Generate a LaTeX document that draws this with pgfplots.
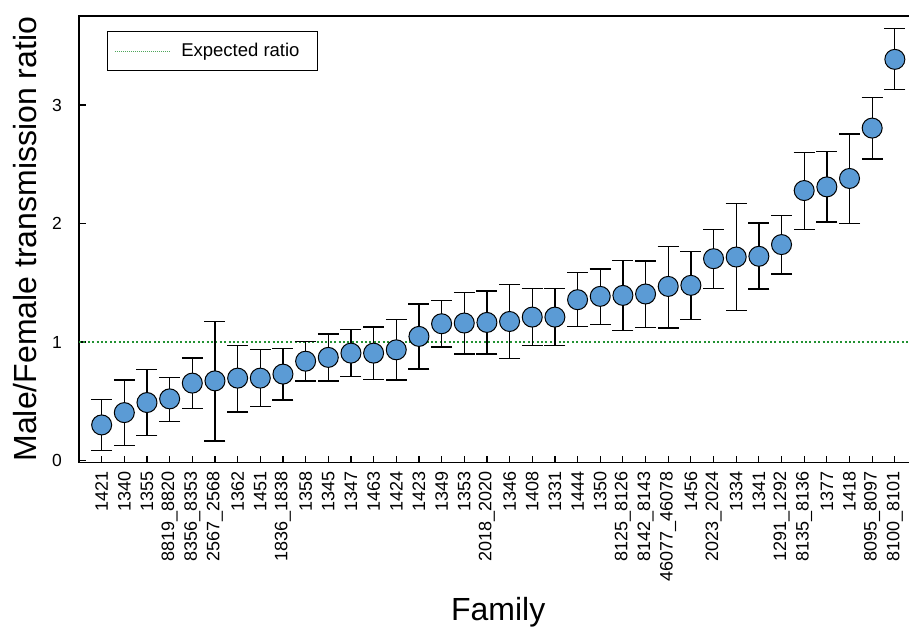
\documentclass[border=0pt]{standalone}
\usepackage{pgfplots}
\pgfplotsset{compat=1.18}
\usepackage{pgfplotstable}
\usepackage{fontspec}
\setmainfont{Liberation Sans}
\definecolor{ptblue}{RGB}{91,155,213}
\definecolor{expgreen}{RGB}{34,145,50}

\pgfplotstableread{
x y lo hi
1 0.300 0.086 0.517
2 0.404 0.125 0.680
3 0.489 0.210 0.765
4 0.520 0.330 0.700
5 0.653 0.438 0.864
6 0.672 0.165 1.173
7 0.695 0.410 0.970
8 0.695 0.455 0.934
9 0.729 0.511 0.943
10 0.838 0.672 1.007
11 0.870 0.672 1.067
12 0.906 0.708 1.103
13 0.906 0.686 1.126
14 0.934 0.680 1.190
15 1.047 0.771 1.320
16 1.154 0.957 1.348
17 1.160 0.898 1.419
18 1.165 0.898 1.430
19 1.173 0.858 1.486
20 1.210 0.968 1.452
21 1.210 0.968 1.452
22 1.357 1.131 1.588
23 1.385 1.148 1.616
24 1.393 1.095 1.689
25 1.405 1.120 1.684
26 1.469 1.117 1.807
27 1.478 1.188 1.762
28 1.703 1.450 1.948
29 1.717 1.266 2.168
30 1.723 1.447 2.005
31 1.822 1.574 2.067
32 2.278 1.948 2.602
33 2.309 2.013 2.608
34 2.380 2.002 2.754
35 2.805 2.543 3.062
36 3.385 3.129 3.645
}\ratiodata

\pgfplotstableread{
x y
0 1
37 1
}\expdata

\begin{document}
\begin{tikzpicture}
\useasboundingbox (-79pt,-163.5pt) rectangle (830pt,462.5pt);
\begin{axis}[
  scale only axis,
  width=838.5pt, height=446.5pt,
  xmin=0, xmax=37,
  ymin=-0.017, ymax=3.751,
  axis line style={line width=1.2pt},
  xtick={1,...,36},
  xticklabels={1421,1340,1355,8819\_8820,8356\_8353,2567\_2568,1362,1451,1836\_1838,1358,1345,1347,1463,1424,1423,1349,1353,2018\_2020,1346,1408,1331,1444,1350,8125\_8126,8142\_8143,46077\_46078,1456,2023\_2024,1334,1341,1291\_1292,8135\_8136,1377,1418,8095\_8097,8100\_8101},
  ytick={0,1,2,3},
  xtick pos=bottom, ytick pos=left,
  major tick length=7pt,
  tick style={line width=1.2pt, black},
  /pgf/number format/assume math mode=true,
  xticklabel shift=9pt,
  yticklabel shift=17pt,
  xticklabel style={font=\fontsize{18}{20}\selectfont, rotate=90, anchor=east, inner sep=0pt},
  yticklabel style={font=\fontsize{17.5}{20}\selectfont, inner sep=0pt, anchor=east},
  xlabel={Family},
  ylabel={Male/Female transmission ratio},
  label style={font=\fontsize{32}{36}\selectfont},
  xlabel style={at={(axis description cs:0.5,0)}, anchor=base, yshift=-157.5pt},
  ylabel style={at={(axis description cs:0,0.5)}, anchor=base, rotate=0, yshift=42pt},
  clip=true,
  legend style={at={(0,1)}, anchor=north west, xshift=28pt, yshift=-15pt,
    draw=black, line width=1pt, inner xsep=7pt, inner ysep=10pt,
    font=\fontsize{18.5}{21}\selectfont,
    nodes={inner xsep=11pt}},
  legend cell align=left,
]
\addplot[expgreen, line width=2pt, dash pattern=on 2pt off 2.4pt,
  legend image code/.code={\draw[expgreen!80, line width=0.8pt, dash pattern=on 1pt off 1pt] (0pt,0pt) -- (55pt,0pt);}]
  table[x=x, y=y] {\expdata};
\addlegendentry{Expected ratio}
\addplot[only marks, mark=*, mark size=10pt,
  mark options={fill=ptblue, draw=black, line width=1pt},
  error bars/.cd, y dir=both, y explicit,
  error bar style={line width=1.3pt, black},
  error mark options={rotate=90, mark size=10.5pt, line width=1.3pt, black}]
  table[x=x, y=y,
    y error plus expr=\thisrow{hi}-\thisrow{y},
    y error minus expr=\thisrow{y}-\thisrow{lo}] {\ratiodata};
\end{axis}
\end{tikzpicture}
\end{document}
